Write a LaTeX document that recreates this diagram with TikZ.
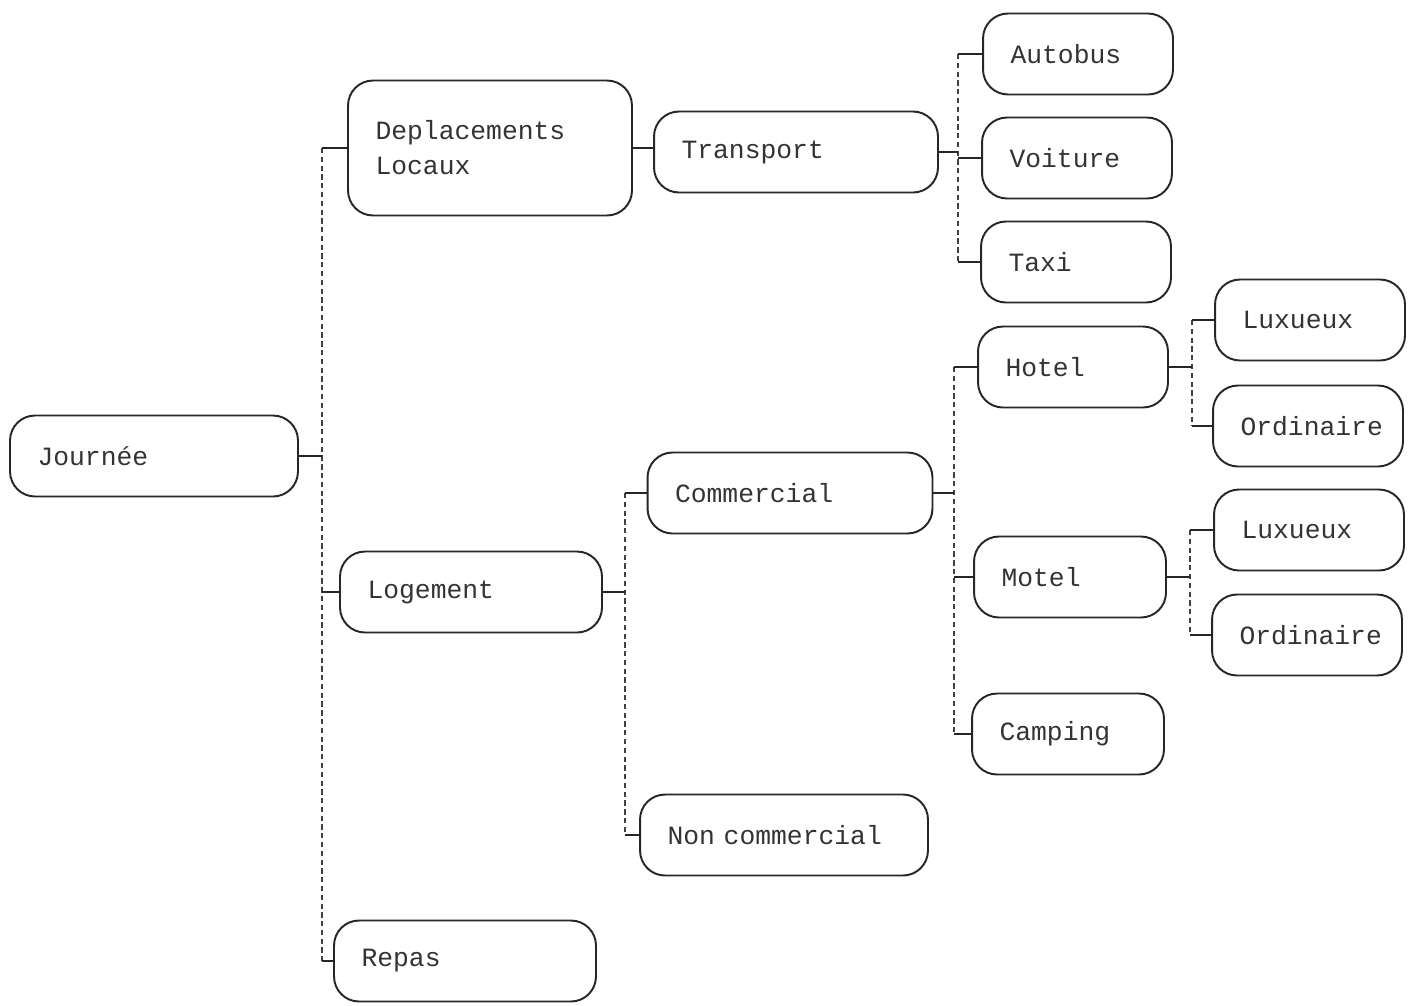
\documentclass[tikz,border=0pt]{standalone}
\usepackage{fontspec}
\usepackage{tikz}
\newfontfamily\boxfont{Liberation Mono}

\begin{document}
\begin{tikzpicture}[x=0.02cm, y=-0.02cm,
  box/.style={draw=black!85, rounded corners=0.5cm, line width=1.1pt, inner xsep=0.55cm, text width=#1, align=left, minimum height=1.62cm, font=\boxfont\fontsize{15}{20}\selectfont, text=black!80},
  stub/.style={line width=1.1pt, color=black!85},
  bar/.style={line width=0.7pt, color=black!75, dash pattern=on 3pt off 2pt}]

\useasboundingbox (0,0) rectangle (1419,1005);

\node[box=4.66cm] at (154, 456) (journee) {Journée};
\node[box=4.58cm, minimum height=2.7cm] at (490, 148) (deplac) {Deplacements\\Locaux};
\node[box=4.58cm] at (796, 152) (transport) {Transport};
\node[box=2.7cm] at (1078, 54) (autobus) {Autobus};
\node[box=2.7cm] at (1077, 158) (voiture) {Voiture};
\node[box=2.7cm] at (1076, 262) (taxi) {Taxi};
\node[box=4.14cm] at (471, 592) (logement) {Logement};
\node[box=4.6cm] at (790, 493) (commercial) {Commercial};
\node[box=4.66cm] at (784, 835) (noncomm) {Non commercial};
\node[box=2.7cm] at (1073, 367) (hotel) {Hotel};
\node[box=2.7cm] at (1310, 320) (luxe1) {Luxueux};
\node[box=2.7cm] at (1308, 426) (ordi1) {Ordinaire};
\node[box=2.74cm] at (1070, 577) (motel) {Motel};
\node[box=2.7cm] at (1309, 530) (luxe2) {Luxueux};
\node[box=2.7cm] at (1307, 635) (ordi2) {Ordinaire};
\node[box=2.74cm] at (1068, 734) (camping) {Camping};
\node[box=4.14cm] at (465, 961) (repas) {Repas};

% bracket columns
\coordinate (b1) at (322, 0);
\coordinate (b2) at (958, 0);
\coordinate (b3) at (625, 0);
\coordinate (b4) at (954, 0);
\coordinate (b5) at (1192, 0);
\coordinate (b6) at (1190, 0);

% Journee
\draw[bar] (deplac.west -| b1) -- (repas.west -| b1);
\draw[stub] (journee.east) -- (journee.east -| b1);
\draw[stub] (deplac.west -| b1) -- (deplac.west);
\draw[stub] (logement.west -| b1) -- (logement.west);
\draw[stub] (repas.west -| b1) -- (repas.west);

% Deplacements Locaux
\draw[stub] (deplac.east) -- (deplac.east -| transport.west);

% Transport
\draw[bar] (autobus.west -| b2) -- (taxi.west -| b2);
\draw[stub] (transport.east) -- (transport.east -| b2);
\draw[stub] (autobus.west -| b2) -- (autobus.west);
\draw[stub] (voiture.west -| b2) -- (voiture.west);
\draw[stub] (taxi.west -| b2) -- (taxi.west);

% Logement
\draw[bar] (commercial.west -| b3) -- (noncomm.west -| b3);
\draw[stub] (logement.east) -- (logement.east -| b3);
\draw[stub] (commercial.west -| b3) -- (commercial.west);
\draw[stub] (noncomm.west -| b3) -- (noncomm.west);

% Commercial
\draw[bar] (hotel.west -| b4) -- (camping.west -| b4);
\draw[stub] (commercial.east) -- (commercial.east -| b4);
\draw[stub] (hotel.west -| b4) -- (hotel.west);
\draw[stub] (motel.west -| b4) -- (motel.west);
\draw[stub] (camping.west -| b4) -- (camping.west);

% Hotel
\draw[bar] (luxe1.west -| b5) -- (ordi1.west -| b5);
\draw[stub] (hotel.east) -- (hotel.east -| b5);
\draw[stub] (luxe1.west -| b5) -- (luxe1.west);
\draw[stub] (ordi1.west -| b5) -- (ordi1.west);

% Motel
\draw[bar] (luxe2.west -| b6) -- (ordi2.west -| b6);
\draw[stub] (motel.east) -- (motel.east -| b6);
\draw[stub] (luxe2.west -| b6) -- (luxe2.west);
\draw[stub] (ordi2.west -| b6) -- (ordi2.west);

\end{tikzpicture}
\end{document}
